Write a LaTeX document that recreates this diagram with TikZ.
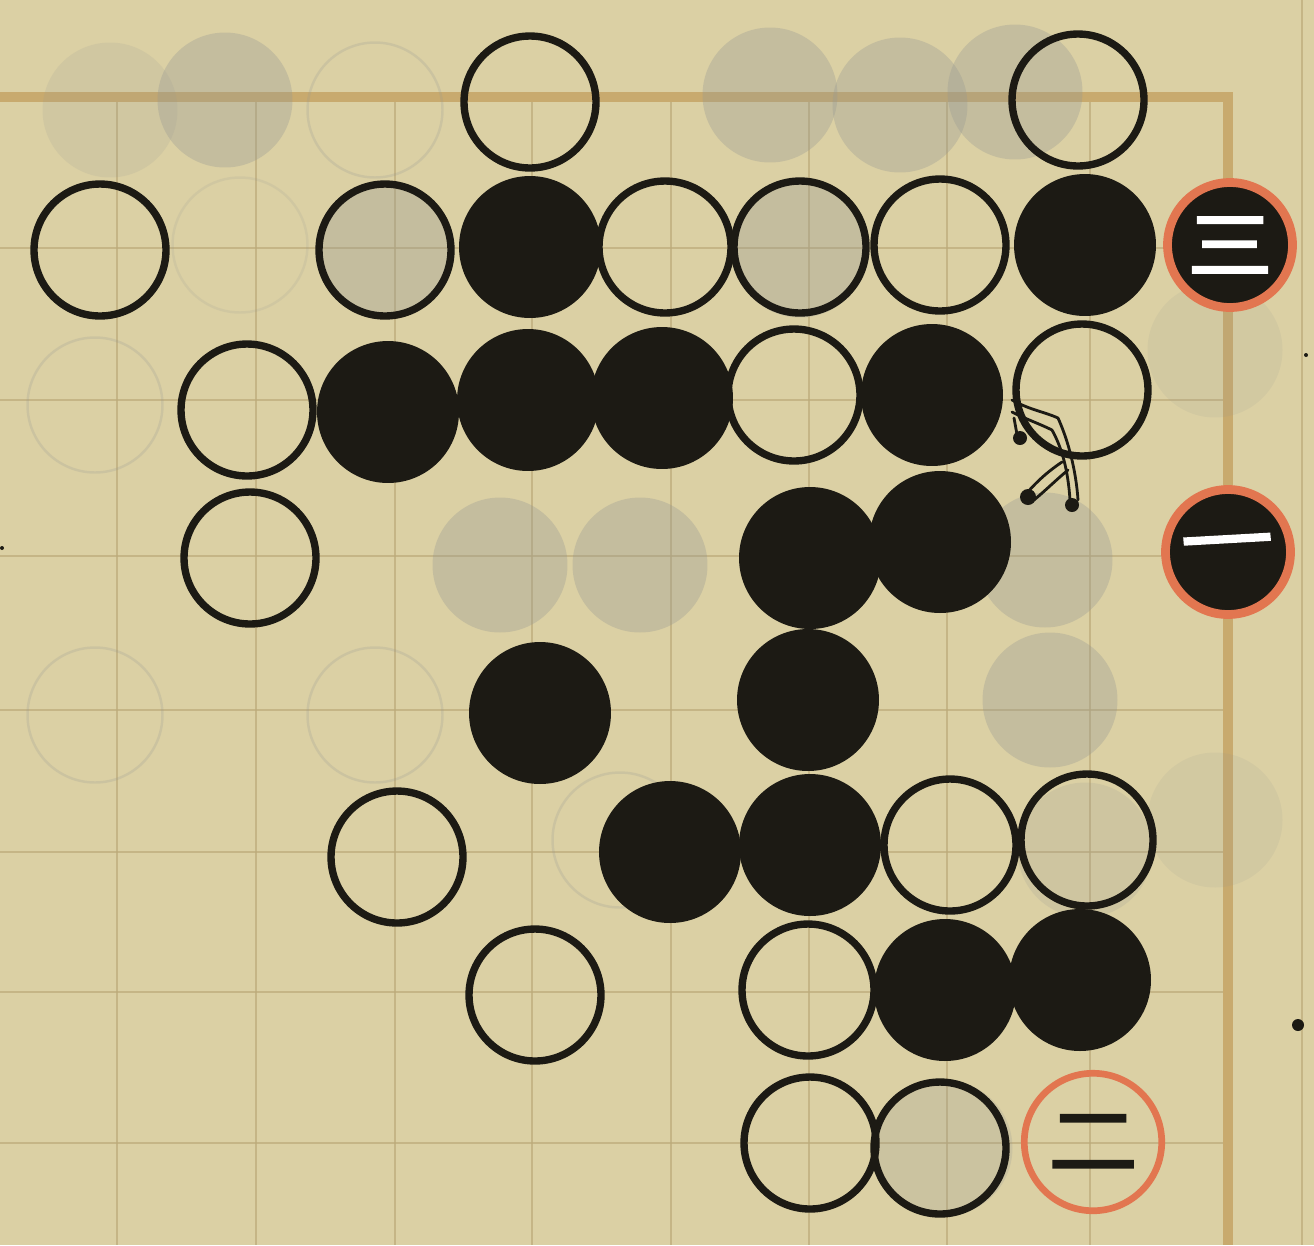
\documentclass[tikz,border=0pt]{standalone}
\usepackage{fontspec}
\newfontfamily\cjk[FakeBold=3]{Noto Sans CJK JP}
\definecolor{paper}{RGB}{219,208,164}
\definecolor{gridc}{RGB}{188,170,122}
\definecolor{edgec}{RGB}{200,170,110}
\definecolor{ink}{RGB}{28,26,20}
\definecolor{ghost}{RGB}{150,152,146}
\definecolor{redring}{RGB}{226,118,80}
\begin{document}
\begin{tikzpicture}[x=0.02cm,y=-0.02cm,
  wstone/.style={circle,draw=ink,line width=4.2pt,minimum size=2.64cm,inner sep=0pt},
  bstone/.style={circle,fill=ink,minimum size=2.84cm,inner sep=0pt},
  gfill/.style={circle,fill=ghost,opacity=0.32,minimum size=2.7cm,inner sep=0pt},
  gring/.style={circle,draw=ghost,line width=1.4pt,opacity=0.22,minimum size=2.7cm,inner sep=0pt},
  mstone/.style={circle,fill=ink,draw=redring,line width=5pt,minimum size=2.5cm,inner sep=0pt},
  rstone/.style={circle,draw=redring,line width=3.8pt,minimum size=2.75cm,inner sep=0pt},
  gline/.style={draw=gridc,line width=1.3pt,opacity=0.7},
  eline/.style={draw=edgec,line width=5.5pt},
  numw/.style={text=white,font=\cjk\fontsize{42}{42}\selectfont,inner sep=0pt},
  numb/.style={text=ink,font=\cjk\fontsize{44}{44}\selectfont,inner sep=0pt}]
\fill[paper] (0,0) rectangle (1314,1245);
\useasboundingbox (0,0) rectangle (1314,1245);
% page crease
\draw[draw=gridc,line width=1.2pt,opacity=0.7] (1302,0) -- (1302,1245);
% grid
\foreach \gx in {117,256,395,532,671,809,947,1090}
  \draw[gline] (\gx,97) -- (\gx,1245);
\foreach \gy in {248,400,556,710,852,992,1143}
  \draw[gline] (0,\gy) -- (1228,\gy);
\draw[eline] (0,97) -- (1228,97) -- (1228,1245);
% ghost stones (show-through)
\node[gfill] (g1) at (225,100) {};
\node[gfill,opacity=0.15] (g2) at (110,110) {};
\node[gring] (g3) at (375,110) {};
\node[gfill] (g4) at (770,95) {};
\node[gfill] (g5) at (900,105) {};
\node[gfill] (g6) at (1015,92) {};
\node[gfill] (g7) at (385,250) {};
\node[gfill] (g8) at (800,250) {};
\node[gring,opacity=0.15] (g9) at (240,245) {};
\node[gring] (g10) at (95,405) {};
\node[gfill] (g11) at (500,565) {};
\node[gfill] (g12) at (640,565) {};
\node[gfill] (g13) at (1045,560) {};
\node[gring] (g14) at (95,715) {};
\node[gring] (g15) at (375,715) {};
\node[gfill] (g16) at (1050,700) {};
\node[gring] (g17) at (620,840) {};
\node[gfill,opacity=0.18] (g18) at (1085,850) {};
\node[gfill,opacity=0.12] (g19) at (1215,820) {};
\node[gfill,opacity=0.22] (g20) at (945,1148) {};
\node[gfill,opacity=0.12] (g21) at (1215,350) {};
% row 1
\node[wstone] (w11) at (530,102) {};
\node[wstone] (w12) at (1078,100) {};
% row 2
\node[wstone] (w21) at (100,250) {};
\node[wstone] (w22) at (385,250) {};
\node[bstone] (b21) at (530,247) {};
\node[wstone] (w23) at (665,247) {};
\node[wstone] (w24) at (800,247) {};
\node[wstone] (w25) at (940,245) {};
\node[bstone] (b22) at (1085,245) {};
\node[mstone] (m3) at (1230,245) {};
\node[numw,xscale=1.15] (t3) at (m3) {三};
% row 3
\node[wstone] (w31) at (247,410) {};
\node[bstone] (b31) at (388,412) {};
\node[bstone] (b32) at (528,400) {};
\node[bstone] (b33) at (662,398) {};
\node[wstone] (w32) at (794,395) {};
\node[bstone] (b34) at (932,395) {};
\node[wstone] (w33) at (1082,390) {};
% row 4
\node[wstone] (w41) at (250,558) {};
\node[bstone] (b41) at (810,558) {};
\node[bstone] (b42) at (940,542) {};
\node[mstone] (m1) at (1228,552) {};
\node[numw,xscale=1.25,rotate=4] (t1) at (m1) {一};
% row 5
\node[bstone] (b51) at (540,713) {};
\node[bstone] (b52) at (808,700) {};
% row 6
\node[wstone] (w61) at (397,857) {};
\node[bstone] (b61) at (670,852) {};
\node[bstone] (b62) at (810,845) {};
\node[wstone] (w62) at (950,845) {};
\node[wstone] (w63) at (1087,840) {};
% row 7
\node[wstone] (w71) at (535,995) {};
\node[wstone] (w72) at (808,990) {};
\node[bstone] (b71) at (945,990) {};
\node[bstone] (b72) at (1080,980) {};
% row 8
\node[wstone] (w81) at (810,1143) {};
\node[wstone] (w82) at (940,1148) {};
\node[rstone] (m2) at (1093,1142) {};
\node[numb,xscale=1.15] (t2) at (m2) {二};
% small doodle by the white stone
\draw[ink,line width=1.6pt,line cap=round,line join=round]
  (1012,400) .. controls (1030,410) and (1045,412) .. (1058,418)
  (1012,412) .. controls (1028,420) and (1040,424) .. (1052,430)
  (1052,430) .. controls (1062,448) and (1068,470) .. (1070,500)
  (1058,418) .. controls (1068,440) and (1076,470) .. (1078,500)
  (1062,462) .. controls (1050,470) and (1038,480) .. (1026,494)
  (1068,470) .. controls (1056,480) and (1046,490) .. (1034,500)
  (1014,418) -- (1018,440);
\fill[ink] (1020,438) circle (7);
\fill[ink] (1028,497) circle (8);
\fill[ink] (1072,505) circle (7);
% dots
\fill[ink] (1298,1025) circle (6);
\fill[ink] (1306,355) circle (2);
\fill[ink] (2,548) circle (2);
\end{tikzpicture}
\end{document}
